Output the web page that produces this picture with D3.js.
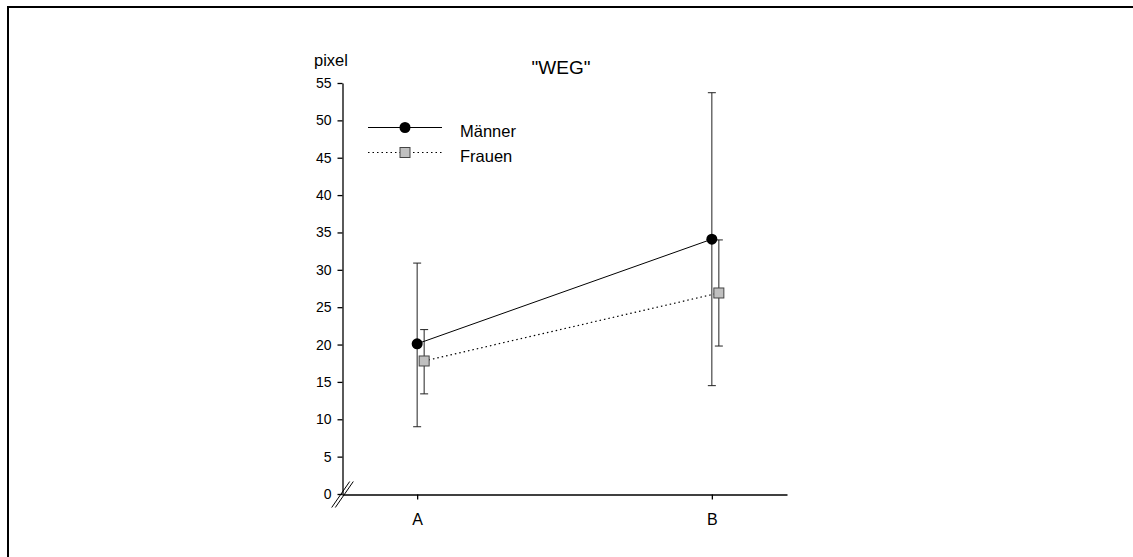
<!DOCTYPE html>
<html>
<head>
<meta charset="utf-8">
<script src="https://cdn.jsdelivr.net/npm/d3@7"></script>
<style>
  html, body { margin: 0; padding: 0; background: #fff; }
  svg { display: block; font-family: Arial, "Liberation Sans", sans-serif; }
</style>
</head>
<body>
<svg id="chart" width="1133" height="557"></svg>
<script>
const categories = ["A", "B"];
const yTicks = [0, 5, 10, 15, 20, 25, 30, 35, 40, 45, 50, 55];
const maennerMean = [20.1, 34.1];
const maennerLow  = [9.0, 14.5];
const maennerHigh = [30.9, 53.7];
const frauenMean  = [17.8, 26.9];
const frauenLow   = [13.4, 19.8];
const frauenHigh  = [22.0, 34.0];
const seriesNames = ["Männer", "Frauen"];
const title = '"WEG"';
const yLabel = "pixel";

const svg = d3.select("#chart");

// frame (top and left only)
svg.append("path").attr("d", "M8,557 L8,7 L1133,7")
  .attr("fill", "none").attr("stroke", "#000").attr("stroke-width", 2);

const x = d3.scalePoint().domain(categories).range([342, 787]).padding(0.255);
const y = d3.scaleLinear().domain([0, 55]).range([494, 83]);
const offF = 7;

// axes
const yAxis = svg.append("g").attr("transform", "translate(342.5,0)")
  .call(d3.axisLeft(y).tickValues(yTicks).tickSize(5).tickSizeOuter(0).tickPadding(6));
yAxis.selectAll("text").attr("font-size", 14).attr("font-family", "Arial, 'Liberation Sans', sans-serif").attr("fill", "#000");
yAxis.selectAll("line, path").attr("stroke", "#000").attr("stroke-width", 1.3);

const xAxis = svg.append("g").attr("transform", "translate(0,494.5)")
  .call(d3.axisBottom(x).tickSize(5).tickSizeOuter(0).tickPadding(14));
xAxis.selectAll("text").attr("font-size", 16).attr("font-family", "Arial, 'Liberation Sans', sans-serif").attr("fill", "#000");
xAxis.selectAll("line, path").attr("stroke", "#000").attr("stroke-width", 1.3);

// axis break marks
[-1.8, 1.8].forEach(o => {
  svg.append("line")
    .attr("x1", 342.5 + o - 9).attr("y1", 494.5 + 13)
    .attr("x2", 342.5 + o + 9).attr("y2", 494.5 - 13)
    .attr("stroke", "#000").attr("stroke-width", 1);
});

// error bars
function errBars(means, lows, highs, dx) {
  const g = svg.append("g");
  categories.forEach((c, i) => {
    const cx = x(c) + dx;
    g.append("line").attr("x1", cx).attr("x2", cx).attr("y1", y(lows[i])).attr("y2", y(highs[i]))
      .attr("stroke", "#222").attr("stroke-width", 1);
    [lows[i], highs[i]].forEach(v => {
      g.append("line").attr("x1", cx - 4).attr("x2", cx + 4).attr("y1", y(v)).attr("y2", y(v))
        .attr("stroke", "#222").attr("stroke-width", 1);
    });
  });
}
errBars(maennerMean, maennerLow, maennerHigh, 0);
errBars(frauenMean, frauenLow, frauenHigh, offF);

// lines
const lineM = d3.line().x((d, i) => x(categories[i])).y(d => y(d));
const lineF = d3.line().x((d, i) => x(categories[i]) + offF).y(d => y(d));
svg.append("path").attr("d", lineM(maennerMean)).attr("fill", "none").attr("stroke", "#000").attr("stroke-width", 1);
svg.append("path").attr("d", lineF(frauenMean)).attr("fill", "none").attr("stroke", "#000")
  .attr("stroke-width", 1.2).attr("stroke-dasharray", "1.5,3");

// markers
svg.selectAll("circle.m").data(maennerMean).enter().append("circle")
  .attr("cx", (d, i) => x(categories[i])).attr("cy", d => y(d)).attr("r", 5.5).attr("fill", "#000");
svg.selectAll("rect.f").data(frauenMean).enter().append("rect")
  .attr("x", (d, i) => x(categories[i]) + offF - 5).attr("y", d => y(d) - 5)
  .attr("width", 10).attr("height", 10).attr("fill", "#c0c0c0").attr("stroke", "#444").attr("stroke-width", 1);

// legend
const lg = svg.append("g");
lg.append("line").attr("x1", 368).attr("x2", 442).attr("y1", 127.5).attr("y2", 127.5).attr("stroke", "#000").attr("stroke-width", 1);
lg.append("circle").attr("cx", 405).attr("cy", 127.5).attr("r", 5.5).attr("fill", "#000");
lg.append("line").attr("x1", 368).attr("x2", 442).attr("y1", 152.5).attr("y2", 152.5).attr("stroke", "#000")
  .attr("stroke-width", 1.2).attr("stroke-dasharray", "1.5,3");
lg.append("rect").attr("x", 400).attr("y", 147.5).attr("width", 10).attr("height", 10)
  .attr("fill", "#c0c0c0").attr("stroke", "#444").attr("stroke-width", 1);
lg.append("text").attr("x", 460).attr("y", 137).attr("font-size", 16.5).text(seriesNames[0]);
lg.append("text").attr("x", 460).attr("y", 162).attr("font-size", 16.5).text(seriesNames[1]);

// title and y label
svg.append("text").attr("x", 561).attr("y", 74).attr("text-anchor", "middle").attr("font-size", 19).text(title);
svg.append("text").attr("x", 314).attr("y", 66).attr("font-size", 16.5).text(yLabel);
</script>
</body>
</html>
